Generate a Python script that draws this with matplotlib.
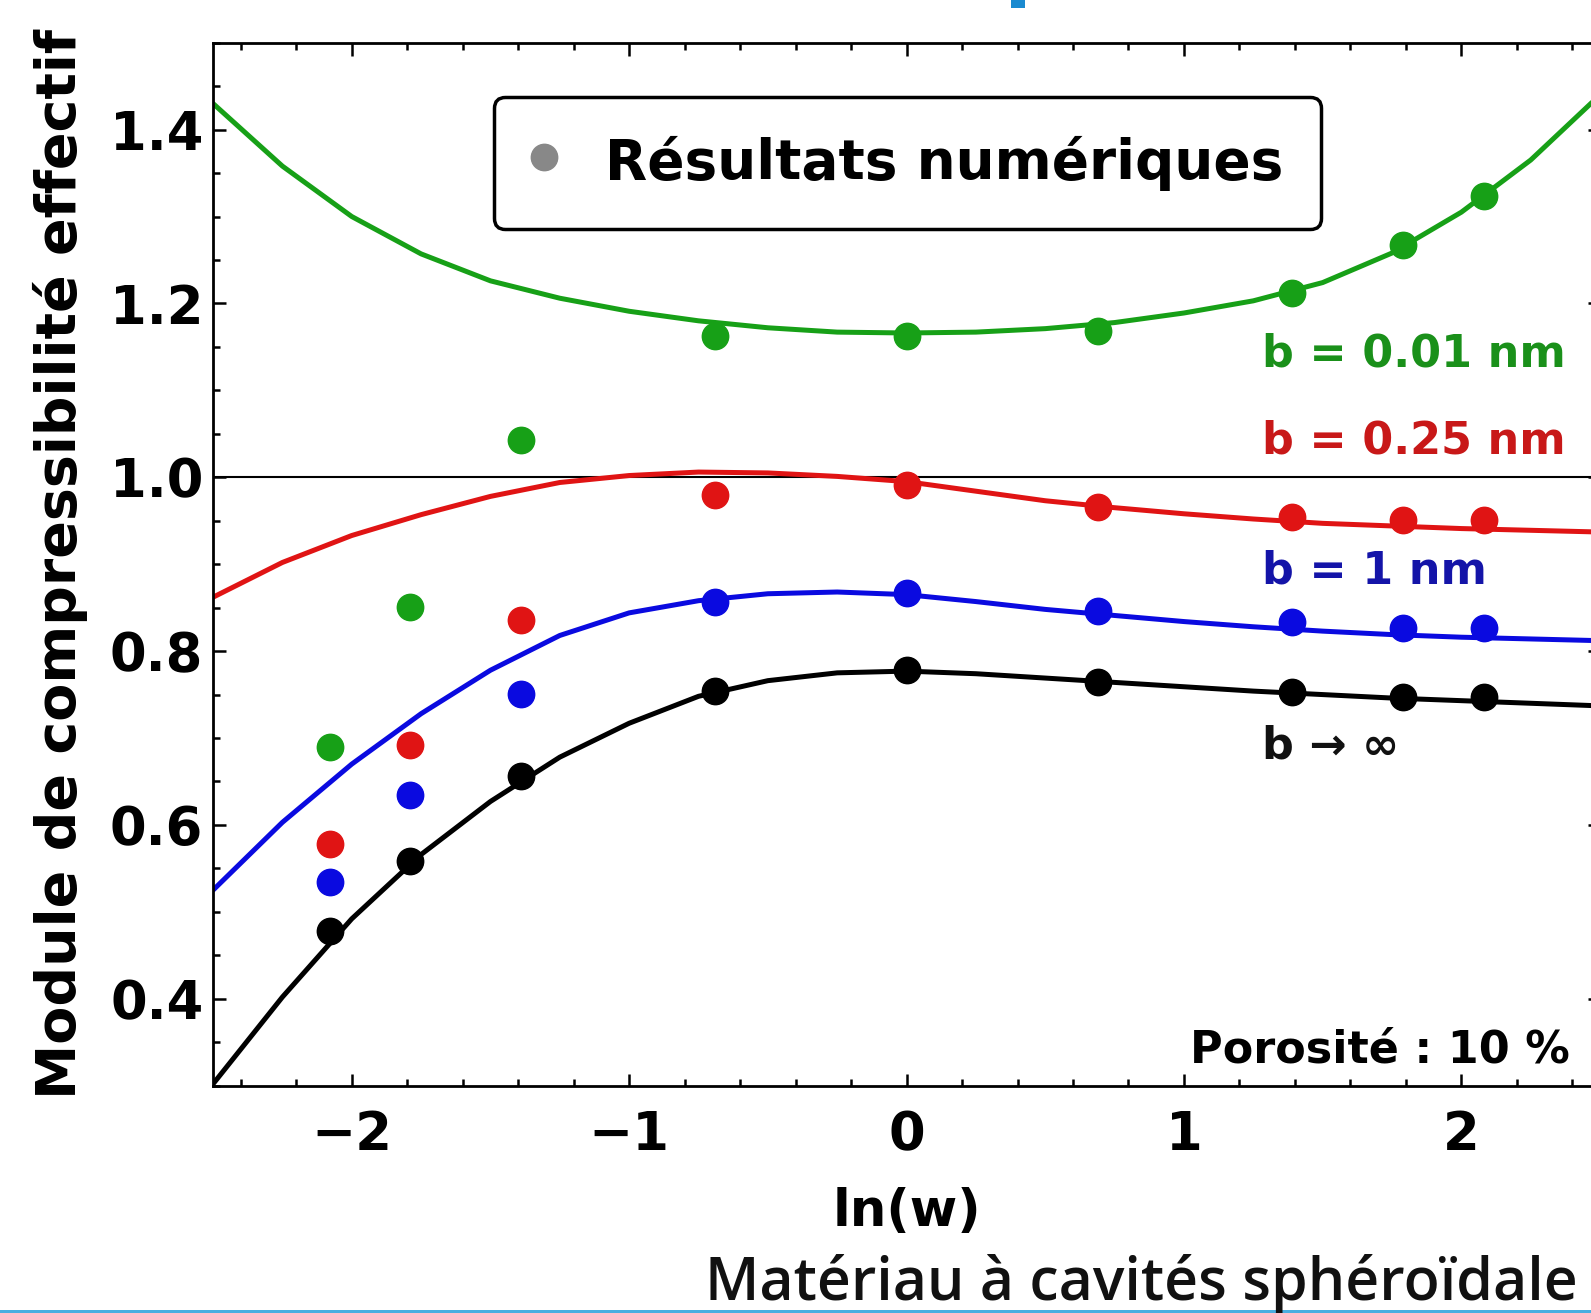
#effective bulk modulus vs ln(w) for spheroidal cavities, 4 interface parameters b
import matplotlib
matplotlib.use('Agg')
import matplotlib.pyplot as plt
from matplotlib.ticker import MultipleLocator
from matplotlib.patches import Rectangle

# numerical results (dots)
x_pts = [-2.08, -1.79, -1.39, -0.69, 0.0, 0.69, 1.39, 1.79, 2.08]
green_pts = [0.690, 0.851, 1.043, 1.162, 1.162, 1.168, 1.212, 1.267, 1.324]
red_pts = [0.578, 0.692, 0.836, 0.980, 0.991, 0.966, 0.954, 0.951, 0.951]
blue_pts = [0.534, 0.635, 0.751, 0.857, 0.867, 0.846, 0.833, 0.827, 0.827]
black_pts = [0.478, 0.559, 0.656, 0.754, 0.778, 0.765, 0.753, 0.747, 0.747]

# model curves (solid lines)
x_fit = [-2.5, -2.25, -2.0, -1.75, -1.5, -1.25, -1.0, -0.75, -0.5, -0.25, 0.0,
         0.25, 0.5, 0.75, 1.0, 1.25, 1.5, 1.75, 2.0, 2.25, 2.5]
green_fit = [1.430, 1.358, 1.300, 1.257, 1.226, 1.206, 1.191, 1.180, 1.172, 1.167, 1.166,
             1.167, 1.171, 1.178, 1.189, 1.203, 1.224, 1.258, 1.305, 1.365, 1.440]
red_fit = [0.862, 0.902, 0.933, 0.957, 0.978, 0.994, 1.002, 1.006, 1.005, 1.001, 0.995,
           0.984, 0.973, 0.965, 0.958, 0.952, 0.947, 0.944, 0.941, 0.939, 0.937]
blue_fit = [0.525, 0.603, 0.670, 0.728, 0.778, 0.818, 0.844, 0.858, 0.866, 0.868, 0.865,
            0.857, 0.848, 0.841, 0.834, 0.828, 0.823, 0.819, 0.816, 0.814, 0.812]
black_fit = [0.302, 0.402, 0.492, 0.566, 0.627, 0.678, 0.717, 0.748, 0.766, 0.775, 0.777,
             0.774, 0.769, 0.764, 0.759, 0.754, 0.750, 0.746, 0.743, 0.740, 0.737]

curve_labels = ['b = 0.01 nm', 'b = 0.25 nm', 'b = 1 nm', 'b \u2192 \u221e']
label_y = [1.128, 1.027, 0.878, 0.677]

green = '#17a017'
red = '#e01414'
blue = '#0a0ae0'
black = '#000000'

plt.rcParams['font.family'] = 'DejaVu Sans'
plt.rcParams['font.weight'] = 'bold'

fig = plt.figure(figsize=(15.91, 13.13), dpi=100)
ax = fig.add_axes([0.1339, 0.1731, 0.8718, 0.7944])

# reference line at 1
ax.axhline(1.0, color='black', linewidth=1.5, zorder=1)

for yfit, col in zip([green_fit, red_fit, blue_fit, black_fit], [green, red, blue, black]):
    ax.plot(x_fit, yfit, '-', color=col, linewidth=3.6, zorder=2,
            solid_joinstyle='round', solid_capstyle='round')
for ypts, col in zip([green_pts, red_pts, blue_pts, black_pts], [green, red, blue, black]):
    ax.plot(x_pts, ypts, 'o', color=col, markersize=19, zorder=3)

# curve labels
label_colors = ['#1a901a', '#c81818', '#1414a8', '#111111']
for txt, yl, col in zip(curve_labels, label_y, label_colors):
    ax.text(1.28, yl, txt, color=col, fontsize=32, fontweight='bold')

ax.text(2.39, 0.327, 'Porosité : 10 %', ha='right', fontsize=32, fontweight='bold')

# legend with a grey proxy dot
ax.plot([], [], 'o', color='#888888', markersize=19, label='Résultats numériques')
leg = ax.legend(loc='upper left', bbox_to_anchor=(0.2025, 0.948), borderaxespad=0,
                fontsize=39.5, handlelength=0.45, handleheight=1.1, handletextpad=0.9,
                borderpad=0.68, fancybox=True, framealpha=1, edgecolor='black')
leg.get_frame().set_linewidth(2.5)

ax.set_xlim(-2.5, 2.5)
ax.set_ylim(0.3, 1.5)
ax.xaxis.set_major_locator(MultipleLocator(1))
ax.xaxis.set_minor_locator(MultipleLocator(0.2))
ax.yaxis.set_major_locator(MultipleLocator(0.2))
ax.yaxis.set_minor_locator(MultipleLocator(0.05))
ax.tick_params(which='both', direction='in', top=True, right=True, width=1.8)
ax.tick_params(which='major', length=9)
ax.tick_params(which='minor', length=5)
ax.tick_params(axis='x', labelsize=38, pad=17)
ax.tick_params(axis='y', labelsize=38, pad=7)
for lab in ax.get_xticklabels() + ax.get_yticklabels():
    lab.set_fontweight('bold')
for sp in ax.spines.values():
    sp.set_linewidth(2)

ax.set_xlabel('ln(w)', fontsize=37, fontweight='bold', va='top')
ax.xaxis.set_label_coords(0.5, -0.097)
ax.set_ylabel('Module de compressibilité effectif', fontsize=40, fontweight='bold')
ax.yaxis.set_label_coords(-0.09, 0.5)

# slide leftovers: caption (cut by the slide edge), blue rule at the bottom, piece of the title
fig.text(705 / 1591, 1 - 1300 / 1313, 'Matériau à cavités sphéroïdale', fontsize=42.5,
         family='Open Sans', fontweight=600, color='#111111', va='baseline')
fig.add_artist(Rectangle((0, 0), 1, 3 / 1313, transform=fig.transFigure,
                         color='#4aaee0', linewidth=0))
fig.add_artist(Rectangle((1011 / 1591, 1 - 8 / 1313), 14 / 1591, 8 / 1313,
                         transform=fig.transFigure, color='#1a8ad0', linewidth=0))

plt.savefig('out.png', dpi=100)
